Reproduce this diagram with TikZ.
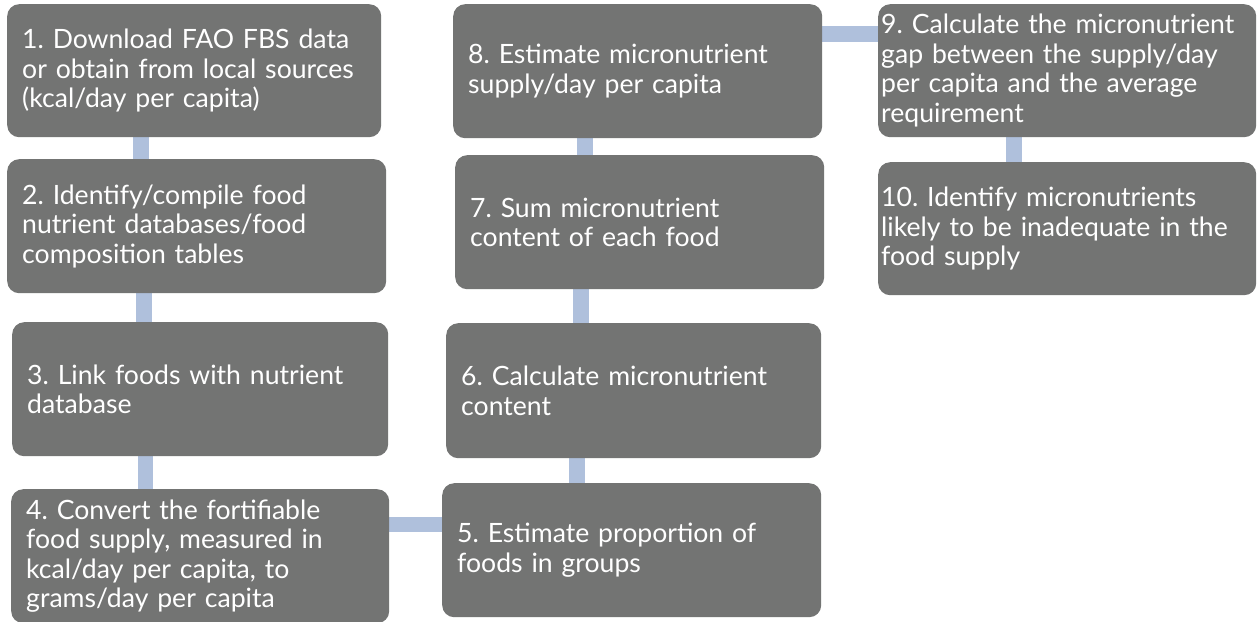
\documentclass[tikz,border=0pt]{standalone}
\usepackage{fontspec}
\setmainfont{Lato}
\usetikzlibrary{backgrounds}
\definecolor{stepgray}{RGB}{115,116,115}
\definecolor{linkblue}{RGB}{175,192,220}
\begin{document}
\frenchspacing
\begin{tikzpicture}[x=1pt,y=-1pt,
  stepbox/.style={fill=stepgray, rounded corners=12pt, text=white,
    anchor=north west, align=left, inner ysep=0pt, inner xsep=15pt,
    font=\fontsize{26.6}{29.5}\selectfont},
  link/.style={draw=linkblue, line width=15.5pt}]
\useasboundingbox (0,0) rectangle (1257,621);

% left column
\node[stepbox, text width=344pt, minimum height=133pt] (s1) at (7,4)
  {1. Download FAO FBS data\\or obtain from local sources\\(kcal/day per capita)};
\node[stepbox, text width=349pt, minimum height=134pt] (s2) at (7,159)
  {2. Identify/compile food\\nutrient databases/food\\composition tables};
\node[stepbox, text width=346pt, minimum height=134pt] (s3) at (12,322)
  {3. Link foods with nutrient\\database};
\node[stepbox, text width=348pt, minimum height=134pt] (s4) at (11,489)
  {4. Convert the fortifiable\\food supply, measured in\\kcal/day per capita, to\\grams/day per capita};

% middle column
\node[stepbox, text width=349pt, minimum height=134pt] (s5) at (442,483)
  {5. Estimate proportion of\\foods in groups};
\node[stepbox, text width=345pt, minimum height=135pt] (s6) at (446,323)
  {6. Calculate micronutrient\\content};
\node[stepbox, text width=339pt, minimum height=134pt] (s7) at (455,155)
  {7. Sum micronutrient\\content of each food};
\node[stepbox, text width=339pt, minimum height=134pt] (s8) at (453,4)
  {8. Estimate micronutrient\\supply/day per capita};

% right column
\node[stepbox, inner xsep=3pt, text width=372pt, minimum height=133pt] (s9) at (878,4)
  {9. Calculate the micronutrient\\gap between the supply/day\\per capita and the average\\requirement};
\node[stepbox, inner xsep=3pt, text width=372pt, minimum height=133pt] (s10) at (878,162)
  {10. Identify micronutrients\\likely to be inadequate in the\\food supply};

% connectors behind the boxes
\begin{scope}[on background layer]
  \draw[link] (141,0 |- s1.south) -- (141,0 |- s2.north);
  \draw[link] (144,0 |- s2.south) -- (144,0 |- s3.north);
  \draw[link] (145.5,0 |- s3.south) -- (145.5,0 |- s4.north);
  \draw[link] (s4.east |- 0,524.5) -- (s5.west |- 0,524.5);
  \draw[link] (577,0 |- s5.north) -- (577,0 |- s6.south);
  \draw[link] (581,0 |- s6.north) -- (581,0 |- s7.south);
  \draw[link] (585,0 |- s7.north) -- (585,0 |- s8.south);
  \draw[link] (s8.east |- 0,34) -- (s9.west |- 0,34);
  \draw[link] (1014,0 |- s9.south) -- (1014,0 |- s10.north);
\end{scope}
\end{tikzpicture}
\end{document}
